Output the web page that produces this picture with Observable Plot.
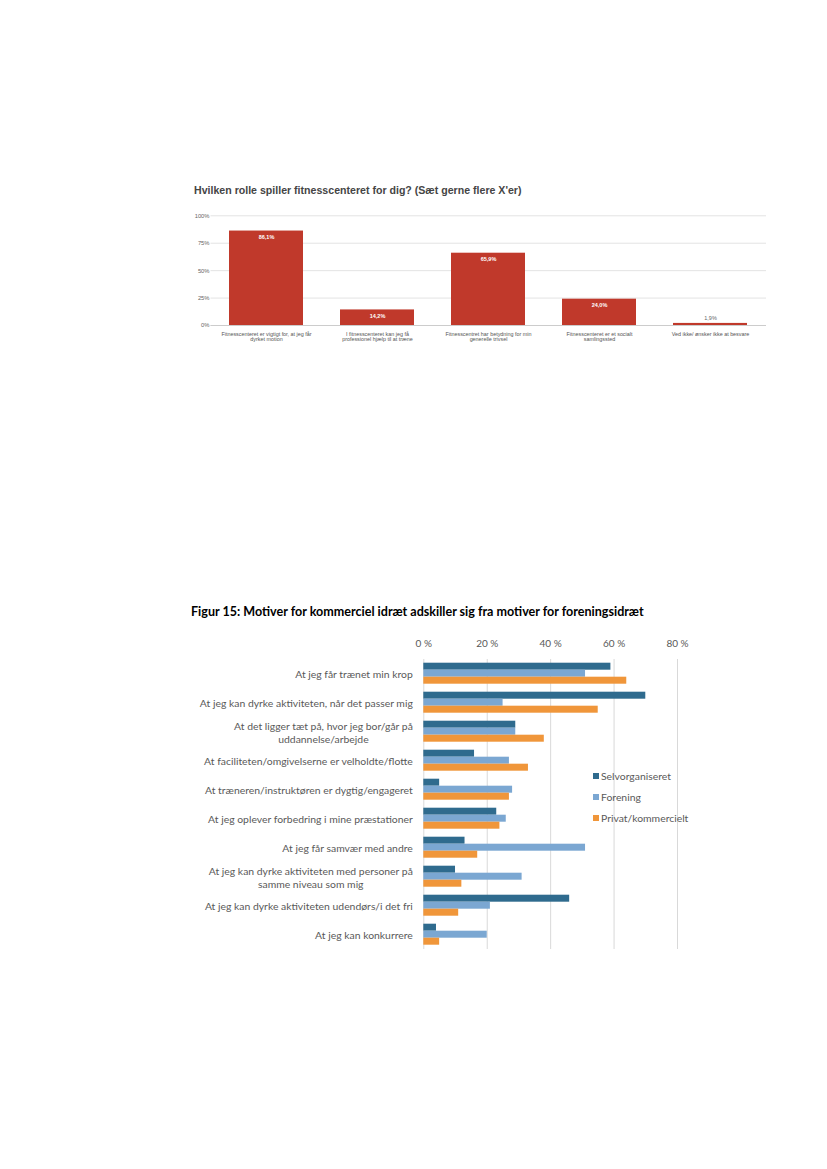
<!DOCTYPE html>
<html><head><meta charset="utf-8">
<script src="https://cdn.jsdelivr.net/npm/d3@7"></script>
<script src="https://cdn.jsdelivr.net/npm/@observablehq/plot@0.6"></script>
<style>
html,body{margin:0;padding:0;background:#fff;}
body{width:827px;height:1169px;position:relative;overflow:hidden;}
.abs{position:absolute;}
#t1{left:194px;top:184px;font:bold 10.6px "Liberation Sans",Arial,sans-serif;color:#454545;white-space:nowrap;}
#c1{left:0;top:200px;}
#t2{left:191px;top:604px;font:bold 12.55px Lato,sans-serif;color:#000;white-space:nowrap;}
#c2{left:0;top:630px;}
#legend{left:593px;top:765.5px;font:10.4px Lato,sans-serif;color:#595959;}
.item{display:flex;align-items:center;height:21px;white-space:nowrap;}
.sw{width:6px;height:6px;margin-right:2px;flex:none;}
svg{display:block;}
</style>
</head><body>
<div id="t1" class="abs"></div>
<div id="c1" class="abs"></div>
<div id="t2" class="abs"></div>
<div id="c2" class="abs"></div>
<div id="legend" class="abs"></div>
<script>
// ---- Chart 1 data ----
const title1 = "Hvilken rolle spiller fitnesscenteret for dig? (Sæt gerne flere X'er)";
const categories1 = [
  "Fitnesscenteret er vigtigt for, at jeg får\ndyrket motion",
  "I fitnesscenteret kan jeg få\nprofessionel hjælp til at træne",
  "Fitnesscentret har betydning for min\ngenerelle trivsel",
  "Fitnesscenteret er et socialt\nsamlingssted",
  "Ved ikke/ ønsker ikke at besvare"
];
const values1 = [86.1, 14.2, 65.9, 24.0, 1.9];
const yTicks1 = [0, 25, 50, 75, 100];

// ---- Chart 2 data ----
const title2 = "Figur 15: Motiver for kommerciel idræt adskiller sig fra motiver for foreningsidræt";
const motives = [
  "At jeg får trænet min krop",
  "At jeg kan dyrke aktiviteten, når det passer mig",
  "At det ligger tæt på, hvor jeg bor/går på\nuddannelse/arbejde",
  "At faciliteten/omgivelserne er velholdte/flotte",
  "At træneren/instruktøren er dygtig/engageret",
  "At jeg oplever forbedring i mine præstationer",
  "At jeg får samvær med andre",
  "At jeg kan dyrke aktiviteten med personer på\nsamme niveau som mig",
  "At jeg kan dyrke aktiviteten udendørs/i det fri",
  "At jeg kan konkurrere"
];
const series = ["Selvorganiseret", "Forening", "Privat/kommercielt"];
const selvorganiseret = [59, 70, 29, 16, 5, 23, 13, 10, 46, 4];
const forening = [51, 25, 29, 27, 28, 26, 51, 31, 21, 20];
const privat = [64, 55, 38, 33, 27, 24, 17, 12, 11, 5];
const xTicks2 = [0, 20, 40, 60, 80];
const colors2 = ["#2f6b8e", "#7ba7d2", "#f0963a"];

// ---- Chart 1 ----
document.getElementById("t1").textContent = title1;
const data1 = categories1.map((c, i) => ({category: c, value: values1[i]}));
const fmt1 = v => v.toFixed(1).replace(".", ",") + "%";
const chart1 = Plot.plot({
  width: 827, height: 150,
  marginLeft: 210.5, marginRight: 61, marginTop: 15.3, marginBottom: 25,
  x: {domain: categories1, paddingInner: 0.33, paddingOuter: 0.165},
  y: {domain: [0, 100]},
  style: {fontFamily: "'Liberation Sans', Arial, sans-serif", background: "transparent"},
  marks: [
    Plot.gridY(yTicks1, {stroke: "#e3e3e3", strokeOpacity: 1}),
    Plot.axisY(yTicks1, {tickSize: 0, tickPadding: 1.5, fontSize: 5.8, fill: "#666", tickFormat: d => d + "%", label: null}),
    Plot.barY(data1, {x: "category", y: "value", fill: "#c0392b"}),
    Plot.ruleY([0], {stroke: "#cccccc"}),
    Plot.axisX({tickSize: 0, tickPadding: 6, fontSize: 5.4, fill: "#555", lineHeight: 1.08, label: null}),
    Plot.text(data1.filter(d => d.value >= 5), {x: "category", y: "value", text: d => fmt1(d.value), dy: 6, fill: "white", fontWeight: "bold", fontSize: 5.5}),
    Plot.text(data1.filter(d => d.value < 5), {x: "category", y: "value", text: d => fmt1(d.value), dy: -5, fill: "#666", fontSize: 5.5})
  ]
});
document.getElementById("c1").append(chart1);

// ---- Chart 2 ----
document.getElementById("t2").textContent = title2;
const byIndex = [selvorganiseret, forening, privat];
const data2 = motives.flatMap((m, i) => series.map((s, j) => ({motive: m, series: s, value: byIndex[j][i]})));
const chart2 = Plot.plot({
  width: 827, height: 330,
  marginLeft: 423.3, marginRight: 150, marginTop: 27.3, marginBottom: 8.3,
  x: {domain: [0, 80]},
  y: {domain: series, axis: null, paddingInner: 0, paddingOuter: 0.5},
  fy: {domain: motives, padding: 0},
  color: {domain: series, range: colors2},
  style: {fontFamily: "Lato, sans-serif", background: "transparent"},
  marks: [
    Plot.gridX(xTicks2, {stroke: "#d9d9d9", strokeOpacity: 1}),
    Plot.axisX(xTicks2, {anchor: "top", tickSize: 0, tickPadding: 13, fontSize: 10, fill: "#595959", tickFormat: d => d + " %", label: null}),
    Plot.axisFy({anchor: "left", tickSize: 0, tickPadding: 11, fontSize: 10.4, fill: "#595959", lineHeight: 1.25, label: null}),
    Plot.barX(data2, {fy: "motive", y: "series", x: "value", fill: "series"})
  ]
});
document.getElementById("c2").append(chart2);

// centre the lines of multi-line labels within their block (as in the original)
chart2.querySelectorAll("g[aria-label='fy-axis tick label'] text").forEach(t => {
  const spans = [...t.querySelectorAll("tspan")];
  if (spans.length > 1) {
    const w = Math.max(...spans.map(s => s.getComputedTextLength()));
    t.setAttribute("text-anchor", "middle");
    spans.forEach(s => s.setAttribute("x", -w / 2));
  }
});

// legend
const legend = document.getElementById("legend");
series.forEach((s, i) => {
  const row = document.createElement("div");
  row.className = "item";
  const sw = document.createElement("span");
  sw.className = "sw";
  sw.style.background = colors2[i];
  const lab = document.createElement("span");
  lab.textContent = s;
  row.append(sw, lab);
  legend.append(row);
});
</script>
</body></html>
